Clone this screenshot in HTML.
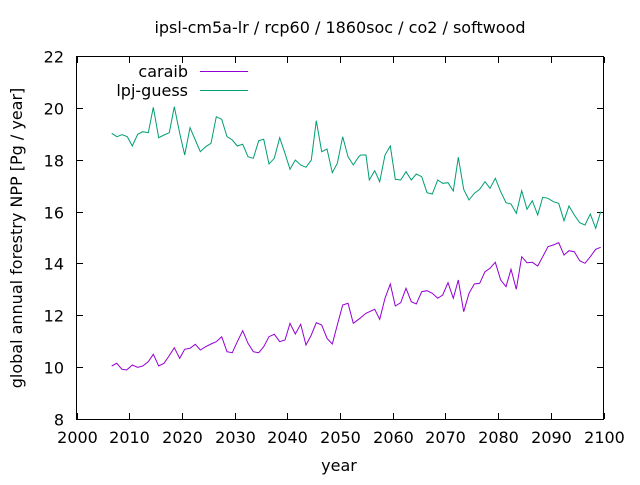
<!DOCTYPE html>
<html><head><meta charset="utf-8"><style>
body{margin:0;background:#fff}
svg text{font-family:"DejaVu Sans",sans-serif;font-size:16px;fill:#000}
</style></head><body>
<svg id="s" width="640" height="480" xmlns="http://www.w3.org/2000/svg">
<rect width="640" height="480" fill="#fff"/>
<g stroke="#000" stroke-width="1" fill="none" id="ax">
<rect x="76.5" y="56.5" width="527" height="363"/>
</g>
<g id="ticks" stroke="#000"></g>
<g id="labels"></g>
<text x="340" y="33" text-anchor="middle">ipsl-cm5a-lr / rcp60 / 1860soc / co2 / softwood</text>
<text x="339" y="471" text-anchor="middle">year</text>
<text transform="translate(22,238) rotate(-90)" text-anchor="middle">global annual forestry NPP [Pg / year]</text>
<text x="188" y="77" text-anchor="end">caraib</text>
<line x1="200" y1="71.5" x2="248" y2="71.5" stroke="#9400d3"/>
<text x="188" y="96" text-anchor="end">lpj-guess</text>
<line x1="200" y1="90.5" x2="248" y2="90.5" stroke="#009e73"/>
<polyline id="car" fill="none" stroke="#9400d3" stroke-width="1"/>
<polyline id="lpj" fill="none" stroke="#009e73" stroke-width="1"/>
</svg>
<script>
var ns="http://www.w3.org/2000/svg",tk=document.getElementById('ticks'),lb=document.getElementById('labels');
function el(p,t,a,txt){var e=document.createElementNS(ns,t);for(var k in a)e.setAttribute(k,a[k]);if(txt)e.textContent=txt;p.appendChild(e);}
for(var i=0;i<=10;i++){var x=76.5+i*52.7;x=Math.round(x)+0.5;
el(tk,'line',{x1:x,y1:419,x2:x,y2:413});el(tk,'line',{x1:x,y1:57,x2:x,y2:63});
el(lb,'text',{x:x,y:443,'text-anchor':'middle'},String(2000+i*10));}
for(var j=0;j<=7;j++){var y=Math.round(419-j*51.86)+0.5;
el(tk,'line',{x1:77,y1:y,x2:83,y2:y});el(tk,'line',{x1:603,y1:y,x2:597,y2:y});
el(lb,'text',{x:64,y:y+6,'text-anchor':'end'},String(8+j*2));}
function pts(a,ox,oy){var r=[];for(var i=0;i<a.length;i+=2)r.push((ox+a[i]/3).toFixed(1)+','+(oy+a[i+1]/3).toFixed(1));return r;}
var l1=[35,130,51,140,66,134,82,140,97,168,113,133,128,125,145,128,160,52,176,143,192,135,208,128,223,50,239,130,254,195,270,113,286,150,301,185,317,170,333,160,349,80,365,88,381,140,397,150,412,168,428,163,444,200,460,205,476,152,491,148,507,222,523,205,539,143,555,190,570,238,586,210,602,225,618,232,634,210,649,92,665,185,681,177,697,248,712,220,728,140,744,200,760,225,776,200];
var l2=[62,75,78,75,88,150,104,122,119,155,135,75,151,48,166,148,182,150,198,125,214,150,229,132,245,140,261,188,277,192,293,150,308,160,324,158,340,183,355,82,371,178,387,210,403,190,419,178,435,155,450,175,466,145,482,185,498,218,513,222,529,250,545,182,561,238,577,212,593,255,608,202,624,205,640,215,656,220,672,272,687,228,703,255,719,278,735,285,751,252,767,295,782,245];
var c1=[35,198,50,190,66,208,80,210,97,195,113,202,128,198,145,185,160,163,176,198,192,190,207,168,223,143,239,175,254,148,270,145,286,133,301,150,317,140,333,132,349,125,365,110,381,155,397,158,412,125,428,92,444,130,460,155,476,158,491,140,507,110,523,103,539,125,555,120,570,70,586,102,602,73,618,135,634,105,649,68,665,75,681,115,697,132,712,75,728,15,744,10,760,70,776,58];
var c2=[78,250,104,238,119,268,135,205,151,162,166,228,182,218,198,175,214,215,229,222,245,185,261,182,277,190,293,205,308,195,324,158,340,205,355,150,371,245,387,190,403,162,419,160,435,125,450,115,466,97,482,150,498,170,513,118,529,178,545,80,561,98,577,97,593,108,608,80,624,50,640,45,656,38,672,75,687,62,703,65,719,92,735,100,751,80,767,58,782,52];
document.getElementById('lpj').setAttribute('points',pts(l1,100,90).concat(pts(l2,340,130)).join(' '));
document.getElementById('car').setAttribute('points',pts(c1,100,300).concat(pts(c2,340,230)).join(' '));
</script>
</body></html>
